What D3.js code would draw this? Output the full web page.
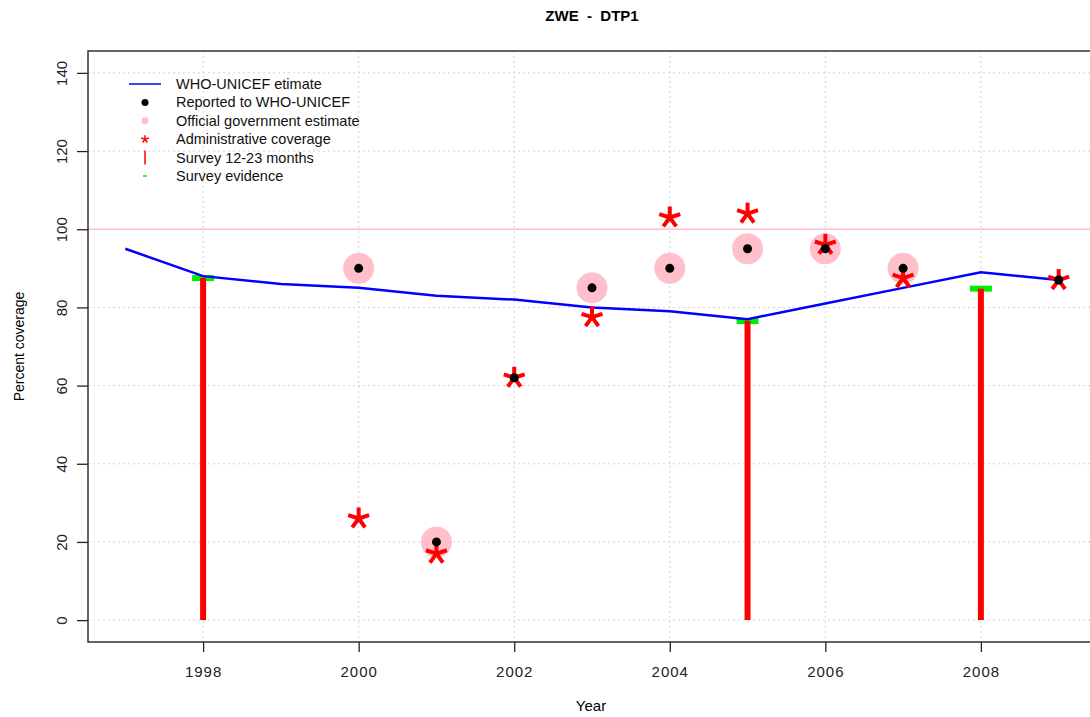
<!DOCTYPE html>
<html>
<head>
<meta charset="utf-8">
<script src="https://cdn.jsdelivr.net/npm/d3@7"></script>
<style>
body{margin:0;background:#fff;}
svg{display:block;font-family:"Liberation Sans",Arial,sans-serif;}
</style>
</head>
<body>
<svg id="chart"></svg>
<script>
const W=1090,H=717;
const years=[1997,1998,1999,2000,2001,2002,2003,2004,2005,2006,2007,2008,2009];
const whoEstimate=[95,88,86,85,83,82,80,79,77,81,85,89,87];
const reportedYears=[2000,2001,2002,2003,2004,2005,2006,2007,2009];
const reported=[90,20,62,85,90,95,95,90,87];
const officialYears=[2000,2001,2003,2004,2005,2006,2007];
const official=[90,20,85,90,95,95,90];
const adminYears=[2000,2001,2002,2003,2004,2005,2006,2007,2009];
const admin=[26,17,62,77.5,103,104,96,87.5,87];
const surveyYears=[1998,2005,2008];
const survey=[87.5,76.5,84.8];
const xTicks=[1998,2000,2002,2004,2006,2008];
const yTicks=[0,20,40,60,80,100,120,140];
const legendLabels=["WHO-UNICEF etimate","Reported to WHO-UNICEF","Official government estimate","Administrative coverage","Survey 12-23 months","Survey evidence"];

const svg=d3.select("#chart").attr("width",W).attr("height",H);
const pL=88,pR=1096,pT=51,pB=642;
const x=d3.scaleLinear().domain([1996.52,2009.48]).range([pL,pR]);
const y=d3.scaleLinear().domain([-5.6,145.6]).range([pB,pT]);

// grid
const grid=svg.append("g").attr("stroke","#d3d3d3").attr("stroke-dasharray","2,3").attr("stroke-width",1);
xTicks.forEach(t=>grid.append("line").attr("x1",x(t)).attr("x2",x(t)).attr("y1",pT).attr("y2",pB));
yTicks.forEach(t=>grid.append("line").attr("x1",pL).attr("x2",pR).attr("y1",y(t)).attr("y2",y(t)));

// 100% reference
svg.append("line").attr("x1",pL).attr("x2",pR).attr("y1",y(100)).attr("y2",y(100))
  .attr("stroke","#ffc0cb").attr("stroke-width",1.5);

// axes
const xAxis=svg.append("g").attr("transform",`translate(0,${pB})`)
  .call(d3.axisBottom(x).tickValues(xTicks).tickFormat(d3.format("d")).tickSize(10).tickPadding(14));
const yAxis=svg.append("g").attr("transform",`translate(${pL},0)`)
  .call(d3.axisLeft(y).tickValues(yTicks).tickSize(11).tickPadding(6));
[xAxis,yAxis].forEach(a=>{
  a.select(".domain").remove();
  a.selectAll("line").attr("stroke","#222").attr("stroke-width",1.3);
  a.selectAll("text").attr("font-size",15).attr("fill","#222").attr("font-family","Liberation Sans, Arial, sans-serif");
});
yAxis.selectAll(".tick text").each(function(){
  d3.select(this).attr("x",null).attr("dy",null).attr("text-anchor","middle")
    .attr("transform","translate(-26,0) rotate(-90)").attr("y",5);
});
xAxis.selectAll(".tick text").attr("letter-spacing",1);

// frame
svg.append("path").attr("d",`M${pL},${pT}V${pB}H${pR}V${pT}Z`)
  .attr("fill","none").attr("stroke","#333").attr("stroke-width",1.5);

// survey evidence (green)
surveyYears.forEach((yr,i)=>{
  svg.append("rect").attr("x",x(yr)-11).attr("y",y(survey[i])-3).attr("width",22).attr("height",6).attr("fill","#00ee00");
});
// survey bars
surveyYears.forEach((yr,i)=>{
  svg.append("line").attr("x1",x(yr)).attr("x2",x(yr)).attr("y1",y(0)).attr("y2",y(survey[i]))
    .attr("stroke","#ff0000").attr("stroke-width",6);
});

// WHO-UNICEF line
svg.append("path").datum(years.map((d,i)=>[d,whoEstimate[i]]))
  .attr("d",d3.line().x(d=>x(d[0])).y(d=>y(d[1])))
  .attr("fill","none").attr("stroke","#0000ff").attr("stroke-width",2.5);

// official (pink)
officialYears.forEach((yr,i)=>{
  svg.append("circle").attr("cx",x(yr)).attr("cy",y(official[i])).attr("r",15.5).attr("fill","#ffc0cb");
});

// asterisk
function star(g,cx,cy,r,w){
  for(let k=0;k<5;k++){
    const a=-Math.PI/2+k*2*Math.PI/5;
    g.append("line").attr("x1",cx).attr("y1",cy).attr("x2",cx+r*Math.cos(a)).attr("y2",cy+r*Math.sin(a))
      .attr("stroke","#ff0000").attr("stroke-width",w).attr("stroke-linecap","butt");
  }
}
const stars=svg.append("g");
adminYears.forEach((yr,i)=>star(stars,x(yr),y(admin[i]),11,4));

// reported (black)
reportedYears.forEach((yr,i)=>{
  svg.append("circle").attr("cx",x(yr)).attr("cy",y(reported[i])).attr("r",4.5).attr("fill","#000");
});

// legend
const lg=svg.append("g").attr("font-size",14.5).attr("fill","#111");
const ly0=84,ldy=18.4,lsx=145,ltx=176;
legendLabels.forEach((t,i)=>{
  lg.append("text").attr("x",ltx).attr("y",ly0+i*ldy+5).text(t);
});
lg.append("line").attr("x1",lsx-16).attr("x2",lsx+16).attr("y1",ly0).attr("y2",ly0).attr("stroke","#0000ff").attr("stroke-width",1.5);
lg.append("circle").attr("cx",lsx).attr("cy",ly0+ldy).attr("r",3.5).attr("fill","#000");
lg.append("circle").attr("cx",lsx).attr("cy",ly0+2*ldy).attr("r",3.5).attr("fill","#ffc0cb");
star(lg,lsx,ly0+3*ldy,4,1.5);
lg.append("line").attr("x1",lsx).attr("x2",lsx).attr("y1",ly0+4*ldy-7).attr("y2",ly0+4*ldy+7).attr("stroke","#ff0000").attr("stroke-width",1.5);
lg.append("line").attr("x1",lsx-2).attr("x2",lsx+2).attr("y1",ly0+5*ldy).attr("y2",ly0+5*ldy).attr("stroke","#00ee00").attr("stroke-width",1.5);

// titles
svg.append("text").attr("x",(pL+pR)/2).attr("y",21).attr("text-anchor","middle")
  .attr("font-weight","bold").attr("font-size",15).style("white-space","pre").text("ZWE  -  DTP1");
svg.append("text").attr("x",(pL+pR)/2-1).attr("y",711).attr("text-anchor","middle").attr("font-size",15).text("Year");
svg.append("text").attr("transform",`translate(24,${(pT+pB)/2}) rotate(-90)`).attr("text-anchor","middle")
  .attr("font-size",14).text("Percent coverage");
</script>
</body>
</html>
